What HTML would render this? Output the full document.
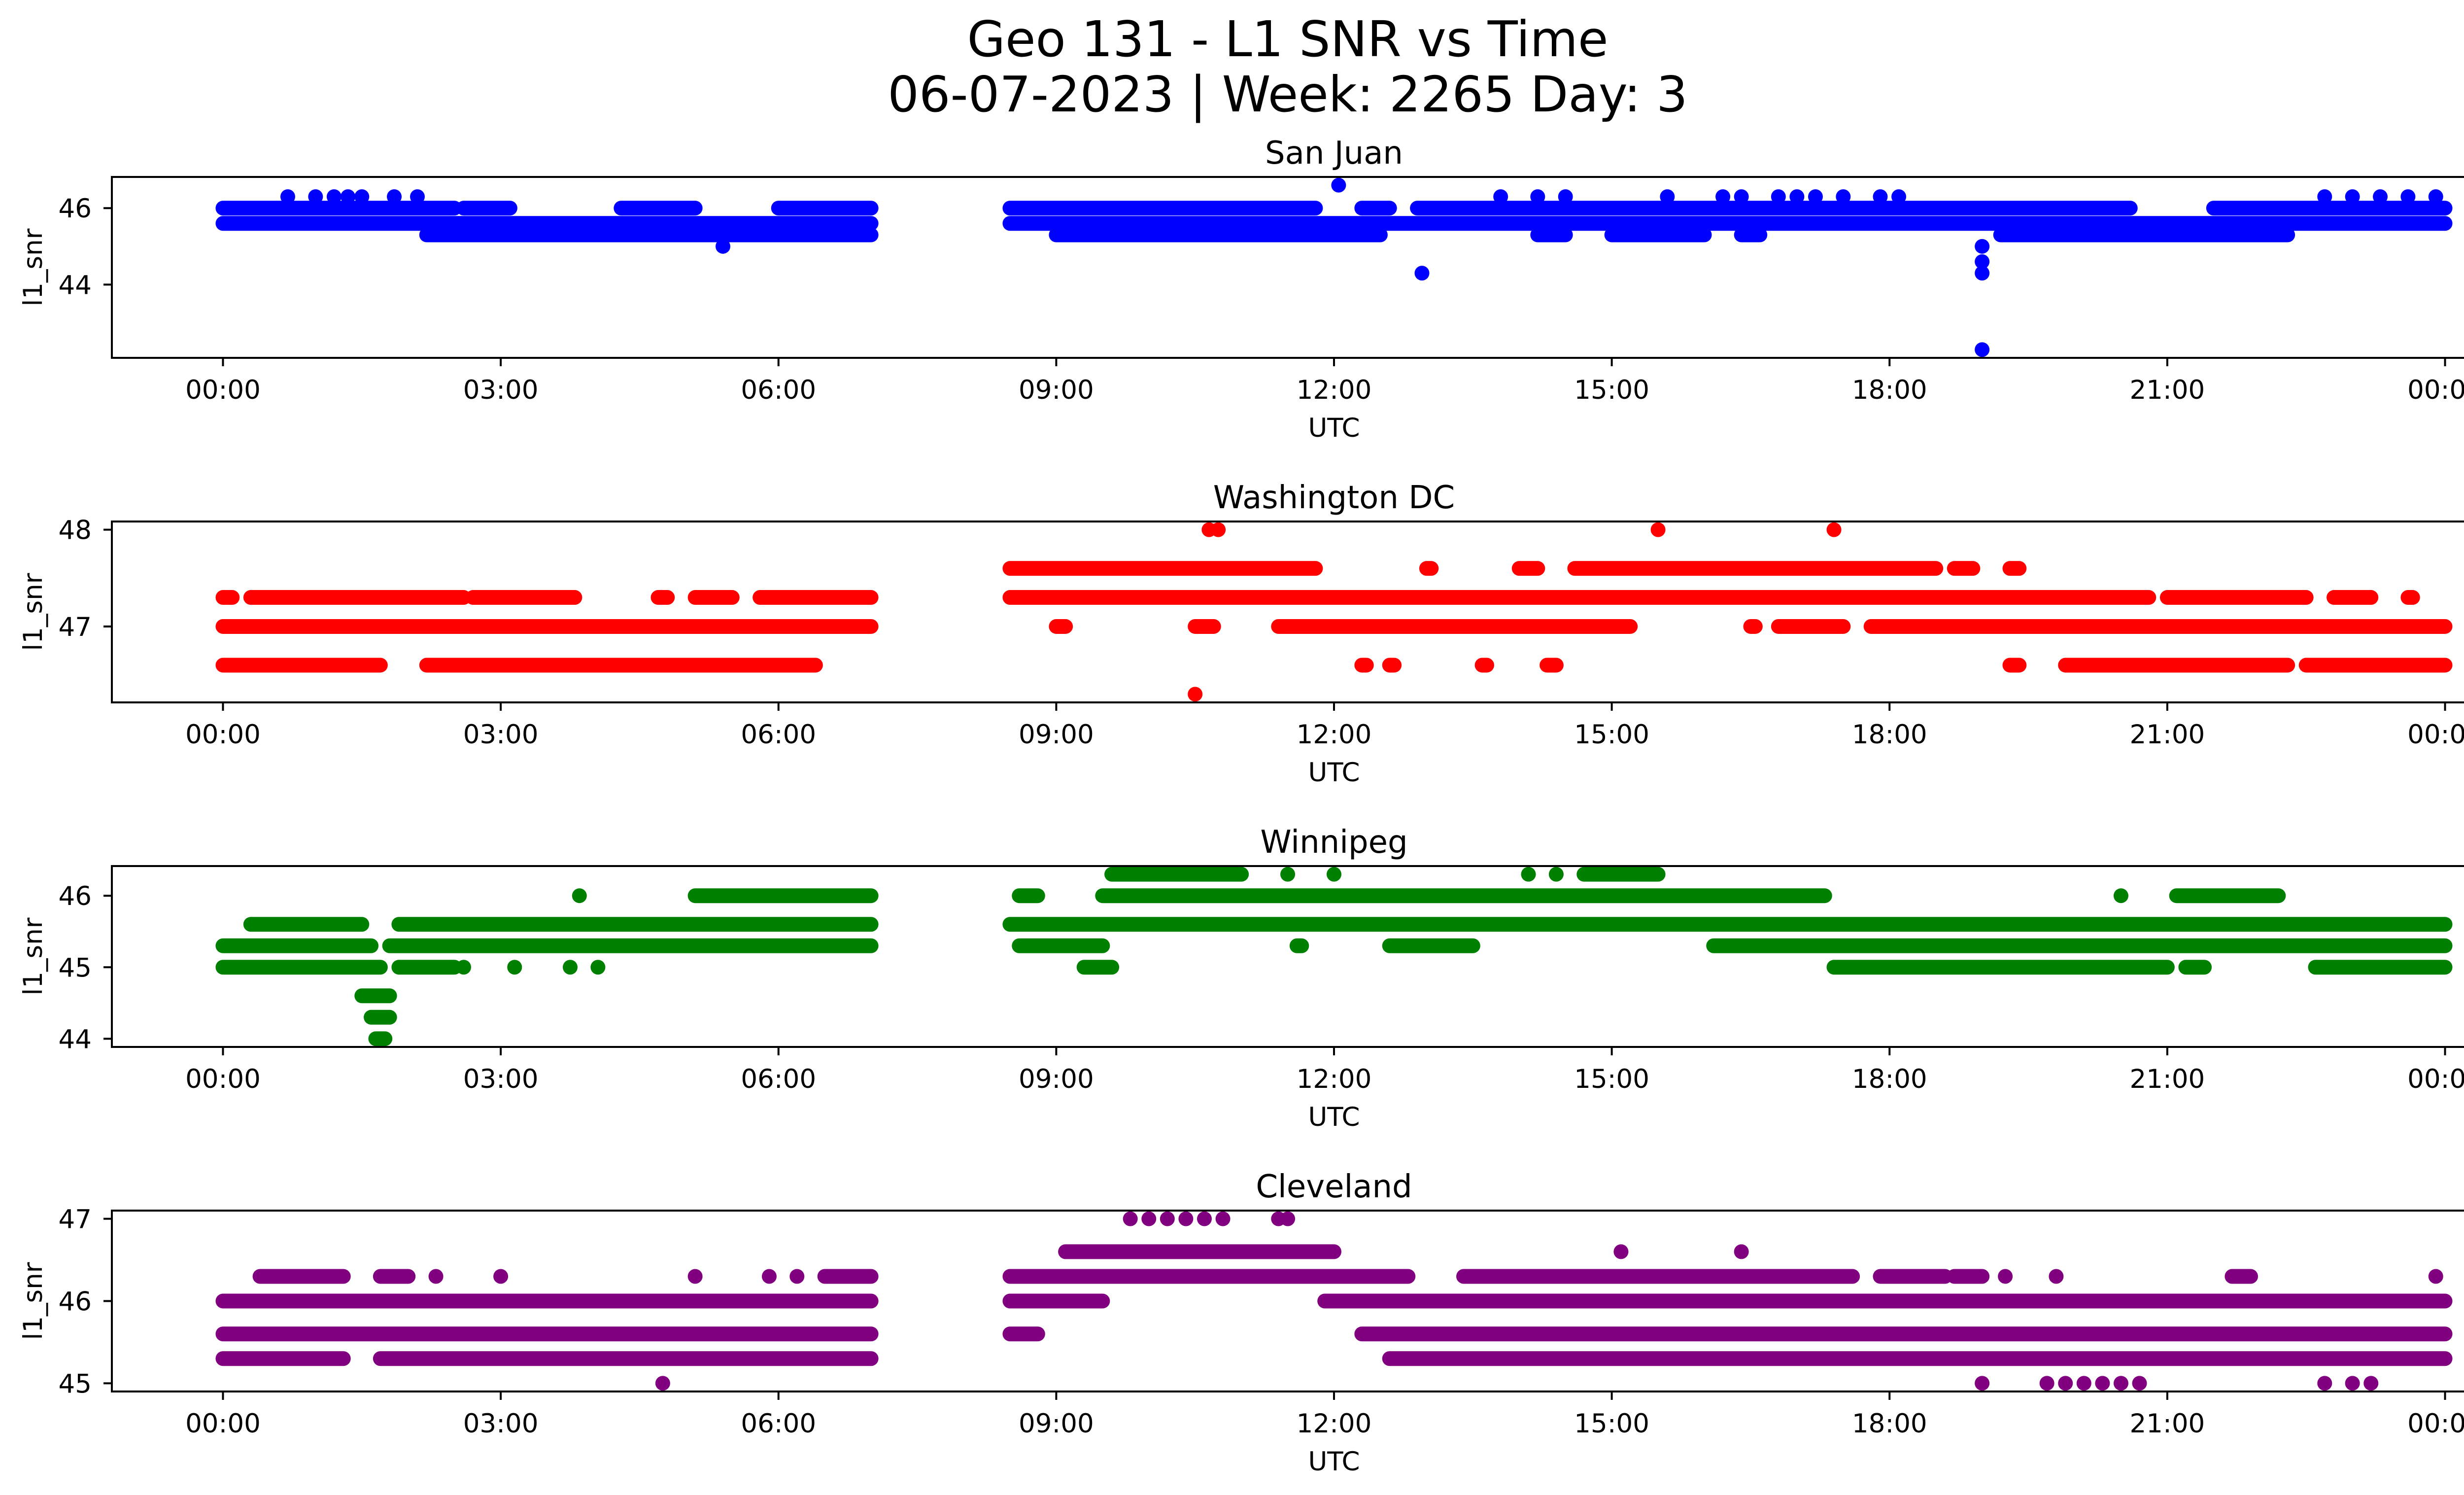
<!DOCTYPE html>
<html><head><meta charset="utf-8"><style>
html,body{margin:0;padding:0;background:#fff}
svg{display:block}
text{font-family:"DejaVu Sans","Liberation Sans",sans-serif;fill:#000}
</style></head><body>
<svg id="fig" width="5226" height="3033" viewBox="0 0 5226 3033" xmlns="http://www.w3.org/2000/svg">
<rect width="5226" height="3033" fill="#fff"/>
<text x="2613" y="114" font-size="100" text-anchor="middle">Geo 131 - L1 SNR vs Time</text>
<text x="2613" y="226" font-size="100" text-anchor="middle">06-07-2023 | Week: 2265 Day: 3</text>
</svg>
<script>
// ---- data ----
const stationNames = ["San Juan","Washington DC","Winnipeg","Cleveland"];
const stationColors = ["#0000ff","#ff0000","#008000","#800080"];
const yLimits = [[42.085,46.815],[46.215,48.085],[43.885,46.415],[44.9,47.1]];
const yTickValues = [[44,46],[47,48],[44,45,46],[45,46,47]];
const xTickHours = [0,3,6,9,12,15,18,21,24];
const xTickLabels = ["00:00","03:00","06:00","09:00","12:00","15:00","18:00","21:00","00:00"];
// runs: [snr level, start hour, end hour]
const sanJuanRuns = [[46.0,0,2.5],[46.0,2.6,3.1],[46.0,4.3,5.1],[46.0,6.0,7.0],[46.0,8.5,11.8],[46.0,12.3,12.6],[46.0,12.9,20.6],[46.0,21.5,24],
 [45.6,0,7.0],[45.6,8.5,24],
 [45.3,2.2,7.0],[45.3,9.0,12.5],[45.3,14.2,14.5],[45.3,15.0,16.0],[45.3,16.4,16.6],[45.3,19.2,22.3]];
const sanJuanPoints = [[0.7,46.3],[1.0,46.3],[1.2,46.3],[1.35,46.3],[1.5,46.3],[1.85,46.3],[2.1,46.3],[13.8,46.3],[14.2,46.3],[14.5,46.3],[15.6,46.3],[16.2,46.3],[16.4,46.3],[16.8,46.3],[17.0,46.3],[17.2,46.3],[17.5,46.3],[17.9,46.3],[18.1,46.3],[22.7,46.3],[23.0,46.3],[23.3,46.3],[23.6,46.3],[23.9,46.3],[12.05,46.6],[12.95,44.3],[5.4,45.0],[19.0,45.0],[19.0,44.6],[19.0,44.3],[19.0,42.3]];
const washingtonRuns = [[47.0,0,7.0],[47.0,9.0,9.1],[47.0,10.5,10.7],[47.0,11.4,15.2],[47.0,16.5,16.55],[47.0,16.8,17.5],[47.0,17.8,24],
 [47.3,0,0.1],[47.3,0.3,2.6],[47.3,2.7,3.8],[47.3,4.7,4.8],[47.3,5.1,5.5],[47.3,5.8,7.0],[47.3,8.5,20.8],[47.3,21.0,22.5],[47.3,22.8,23.2],[47.3,23.6,23.65],
 [47.6,8.5,11.8],[47.6,13.0,13.05],[47.6,14.0,14.2],[47.6,14.6,18.5],[47.6,18.7,18.9],[47.6,19.3,19.4],
 [46.6,0,1.7],[46.6,2.2,6.4],[46.6,12.3,12.35],[46.6,12.6,12.65],[46.6,13.6,13.65],[46.6,14.3,14.4],[46.6,19.3,19.4],[46.6,19.9,22.3],[46.6,22.5,24]];
const washingtonPoints = [[10.65,48],[10.75,48],[15.5,48],[17.4,48],[10.5,46.3]];
const winnipegRuns = [[45.0,0,1.7],[45.0,1.9,2.5],[45.0,9.3,9.6],[45.0,17.4,21.0],[45.0,21.2,21.4],[45.0,22.6,24],
 [45.3,0,1.6],[45.3,1.8,7.0],[45.3,8.6,9.5],[45.3,11.6,11.65],[45.3,12.6,13.5],[45.3,16.1,24],
 [45.6,0.3,1.5],[45.6,1.9,7.0],[45.6,8.5,24],
 [46.0,5.1,7.0],[46.0,8.6,8.8],[46.0,9.5,17.3],[46.0,21.1,22.2],
 [46.3,9.6,11.0],[46.3,14.7,15.5],
 [44.6,1.5,1.8],[44.3,1.6,1.8],[44.0,1.65,1.75]];
const winnipegPoints = [[11.5,46.3],[12.0,46.3],[14.1,46.3],[14.4,46.3],[3.85,46.0],[3.15,45.0],[3.75,45.0],[4.05,45.0],[2.6,45.0],[20.5,46.0]];
const clevelandRuns = [[46.0,0,7.0],[46.0,8.5,9.5],[46.0,11.9,24],
 [45.6,0,7.0],[45.6,8.5,8.8],[45.6,12.3,24],
 [45.3,0,1.3],[45.3,1.7,7.0],[45.3,12.6,24],
 [46.3,0.4,1.3],[46.3,1.7,2.0],[46.3,6.5,7.0],[46.3,8.5,12.8],[46.3,13.4,17.6],[46.3,17.9,18.6],[46.3,18.7,19.0],[46.3,21.7,21.9],
 [46.6,9.1,12.0]];
const clevelandPoints = [[2.3,46.3],[3.0,46.3],[5.1,46.3],[5.9,46.3],[6.2,46.3],[19.25,46.3],[19.8,46.3],[23.9,46.3],[15.1,46.6],[16.4,46.6],
 [9.8,47],[10.0,47],[10.2,47],[10.4,47],[10.6,47],[10.8,47],[11.4,47],[11.5,47],
 [4.75,45],[19.0,45],[19.7,45],[19.9,45],[20.1,45],[20.3,45],[20.5,45],[20.7,45],[22.7,45],[23.0,45],[23.2,45]];
const allRuns = [sanJuanRuns, washingtonRuns, winnipegRuns, clevelandRuns];
const allPoints = [sanJuanPoints, washingtonPoints, winnipegPoints, clevelandPoints];

// ---- drawing ----
const NS = "http://www.w3.org/2000/svg";
const svg = document.getElementById("fig");
const L = 227, R = 5187, axH = 367;
const tops = [359, 1058, 1757, 2456];
const X0 = -1.2, X1 = 25.2;
const MS = 30;
function xs(h){ return L + (h - X0) / (X1 - X0) * (R - L); }
function mk(tag, attrs, parent){ const e = document.createElementNS(NS, tag); for (const k in attrs) e.setAttribute(k, attrs[k]); (parent||svg).appendChild(e); return e; }

for (let p = 0; p < 4; p++) {
  const top = tops[p], bot = top + axH;
  const [y0, y1] = yLimits[p];
  const ys = v => bot - (v - y0) / (y1 - y0) * axH;
  const g = mk("g", {});
  
  
  const clip = mk("clipPath", {id: "c" + p}, g);
  mk("rect", {x: L, y: top, width: R - L, height: axH}, clip);
  const dg = mk("g", {"clip-path": "url(#c" + p + ")"}, g);
  
  
  for (const [lv, a, b] of allRuns[p]) {
    const ln = mk("line", {x1: xs(a), x2: xs(b), y1: ys(lv), y2: ys(lv), stroke: stationColors[p], "stroke-width": MS, "stroke-linecap": "round"}, dg);
    
    
  }
  for (const [h, v] of allPoints[p]) {
    const c = mk("circle", {cx: xs(h), cy: ys(v), r: MS / 2, fill: stationColors[p]}, dg);
    
    
  }
  const fr = mk("rect", {x: L, y: top, width: R - L, height: axH, fill: "none", stroke: "#000", "stroke-width": 4}, g);
  
  
  xTickHours.forEach((h, i) => {
    mk("line", {x1: xs(h), x2: xs(h), y1: bot, y2: bot + 17, stroke: "#000", "stroke-width": 4}, g);
    const t = mk("text", {x: xs(h), y: bot + 83, "font-size": 53, "text-anchor": "middle"}, g);
    t.textContent = xTickLabels[i];
    
    
  });
  yTickValues[p].forEach(v => {
    mk("line", {x1: L - 17, x2: L, y1: ys(v), y2: ys(v), stroke: "#000", "stroke-width": 4}, g);
    const t = mk("text", {x: 186, y: ys(v) + 19, "font-size": 53, "text-anchor": "end"}, g);
    t.textContent = String(v);
    
    
  });
  const xl = mk("text", {x: (L + R) / 2, y: bot + 160, "font-size": 53, "text-anchor": "middle"}, g);
  xl.textContent = "UTC";
  
  
  const yl = mk("text", {x: 0, y: 0, "font-size": 53, "text-anchor": "middle", transform: "translate(85," + (top + axH / 2) + ") rotate(-90)"}, g);
  yl.textContent = "l1_snr";
  
  
  const tt = mk("text", {x: (L + R) / 2, y: top - 27, "font-size": 64, "text-anchor": "middle"}, g);
  tt.textContent = stationNames[p];
  
  
}
</script>
</body></html>
